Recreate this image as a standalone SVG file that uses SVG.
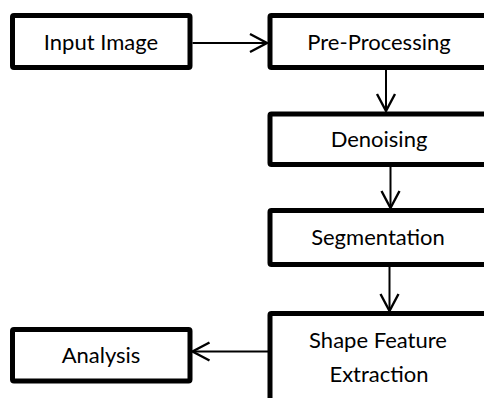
<svg xmlns="http://www.w3.org/2000/svg" width="484" height="398" viewBox="0 0 484 398">
  <style>
    .box { fill: #ffffff; stroke: #000000; stroke-width: 5; stroke-linejoin: round; }
    .lbl { font-family: Lato, "Open Sans", "Liberation Sans", sans-serif; font-size: 22px; fill: #000000; text-anchor: middle; }
    .link { fill: none; stroke: #000000; stroke-width: 2; marker-end: url(#vhead); }
  </style>
  <defs>
    <marker id="vhead" markerUnits="userSpaceOnUse" markerWidth="24" markerHeight="24" viewBox="-20 -12 24 24" refX="0" refY="0" orient="auto" overflow="visible">
      <path d="M-17,-9 L0,0 L-17,9" fill="none" stroke="#000000" stroke-width="2.4" stroke-linejoin="miter"/>
    </marker>
  </defs>
  <rect width="484" height="398" fill="#ffffff"/>

  <g id="connectors">
    <line class="link" x1="192.5" y1="43" x2="267" y2="43"/>
    <line class="link" x1="386" y1="70" x2="386" y2="111"/>
    <line class="link" x1="390.5" y1="167" x2="390.5" y2="208"/>
    <line class="link" x1="389.5" y1="267" x2="389.5" y2="311"/>
    <line class="link" x1="268" y1="351.5" x2="192.5" y2="351.5"/>
  </g>

  <g id="input-image">
    <rect class="box" x="12.5" y="15.5" width="177.5" height="52" rx="1.5"/>
    <text class="lbl" x="101" y="50">Input Image</text>
  </g>
  <g id="pre-processing">
    <rect class="box" x="270" y="15.5" width="220" height="52" rx="1.5"/>
    <text class="lbl" x="379" y="50">Pre-Processing</text>
  </g>
  <g id="denoising">
    <rect class="box" x="270" y="114" width="220" height="50.5" rx="1.5"/>
    <text class="lbl" x="379" y="147">Denoising</text>
  </g>
  <g id="segmentation">
    <rect class="box" x="270" y="210.5" width="220" height="54" rx="1.5"/>
    <text class="lbl" x="378" y="245">Segmentation</text>
  </g>
  <g id="shape-feature-extraction">
    <rect class="box" x="270" y="313.5" width="220" height="100" rx="1.5"/>
    <text class="lbl" x="378" y="347.5">Shape Feature</text>
    <text class="lbl" x="379" y="381.5">Extraction</text>
  </g>
  <g id="analysis">
    <rect class="box" x="12.5" y="329.5" width="177.5" height="51.5" rx="1.5"/>
    <text class="lbl" x="101" y="363">Analysis</text>
  </g>
</svg>
